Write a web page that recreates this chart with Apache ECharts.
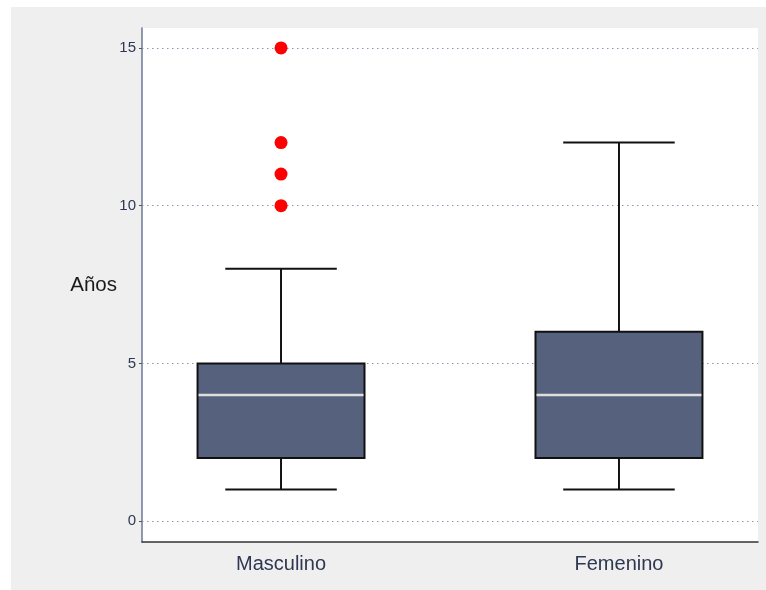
<!DOCTYPE html>
<html>
<head>
<meta charset="utf-8">
<script src="https://cdn.jsdelivr.net/npm/echarts@6/dist/echarts.min.js"></script>
<style>
  html, body { margin: 0; padding: 0; background: #ffffff; }
  #chart { width: 766px; height: 590px; }
</style>
</head>
<body>
<div id="chart"></div>
<script>
var categories = ['Masculino', 'Femenino'];
var whiskerLow = [1, 1];
var q1 = [2, 2];
var median = [4, 4];
var q3 = [5, 6];
var whiskerHigh = [8, 12];
// outliers: [category index, value]
var outliers = [[0, 10], [0, 11], [0, 12], [0, 15]];
var yTicks = [0, 5, 10, 15];

var boxData = categories.map(function (c, i) {
  return [i + 1, whiskerLow[i], q1[i], median[i], q3[i], whiskerHigh[i]];
});
var outlierData = outliers.map(function (o) { return [o[0] + 1, o[1]]; });

var chart = echarts.init(document.getElementById('chart'));

var BOX_W = 0.494;
var CAP_W = 0.33;

function renderBox(params, api) {
  var x = api.value(0);
  var lo = api.coord([x, api.value(1)]);
  var b1 = api.coord([x, api.value(2)]);
  var md = api.coord([x, api.value(3)]);
  var b3 = api.coord([x, api.value(4)]);
  var hi = api.coord([x, api.value(5)]);
  var bw = api.size([BOX_W, 0])[0];
  var cw = api.size([CAP_W, 0])[0];
  var line = { stroke: '#111111', lineWidth: 2 };
  return {
    type: 'group',
    children: [
      { type: 'line', shape: { x1: lo[0], y1: lo[1], x2: b1[0], y2: b1[1] }, style: line },
      { type: 'line', shape: { x1: b3[0], y1: b3[1], x2: hi[0], y2: hi[1] }, style: line },
      { type: 'line', shape: { x1: lo[0] - cw / 2, y1: lo[1], x2: lo[0] + cw / 2, y2: lo[1] }, style: line },
      { type: 'line', shape: { x1: hi[0] - cw / 2, y1: hi[1], x2: hi[0] + cw / 2, y2: hi[1] }, style: line },
      { type: 'rect', shape: { x: b3[0] - bw / 2, y: b3[1], width: bw, height: b1[1] - b3[1] },
        style: { fill: '#56617d', stroke: '#111111', lineWidth: 2 } },
      { type: 'line', shape: { x1: md[0] - bw / 2 + 1, y1: md[1], x2: md[0] + bw / 2 - 1, y2: md[1] },
        style: { stroke: '#dedede', lineWidth: 2.5 } }
    ]
  };
}

var option = {
  animation: false,
  backgroundColor: '#ffffff',
  textStyle: { fontFamily: 'Liberation Sans' },
  graphic: [{
    type: 'rect', z: -100, silent: true,
    shape: { x: 11, y: 7, width: 755, height: 583 },
    style: { fill: '#efefef' }
  }],
  grid: {
    left: 142, top: 28, width: 616, height: 514,
    show: true, backgroundColor: '#ffffff', borderWidth: 0
  },
  xAxis: {
    type: 'value',
    min: 0.5886, max: 2.4114,
    splitLine: { show: false },
    axisTick: { show: false },
    axisLine: { show: true, onZero: false, lineStyle: { color: '#333333', width: 1.5 } },
    axisLabel: {
      customValues: [1, 2],
      formatter: function (v) { return categories[Math.round(v) - 1] || ''; },
      color: '#2f3852', fontSize: 20, margin: 12
    }
  },
  yAxis: {
    type: 'value',
    min: -0.66, max: 15.63,
    name: 'Años',
    nameLocation: 'middle',
    nameRotate: 0,
    nameGap: 25,
    nameMoveOverlap: false,
    nameTextStyle: { color: '#1a1a1a', fontSize: 20.5 },
    splitLine: { show: false },
    axisLine: { show: true, lineStyle: { color: '#6a7897', width: 1.5 } },
    axisTick: { show: true, customValues: yTicks, length: 3, lineStyle: { color: '#555555' } },
    axisLabel: { customValues: yTicks, color: '#2f3852', fontSize: 15, margin: 6 }
  },
  series: [
    {
      type: 'custom',
      renderItem: renderBox,
      encode: { x: 0, y: [1, 2, 3, 4, 5] },
      data: boxData,
      z: 3,
      markLine: {
        silent: true,
        symbol: 'none',
        label: { show: false },
        lineStyle: { type: [1.5, 3.5], color: '#8f95b0', width: 1.2 },
        data: yTicks.map(function (t) { return { yAxis: t }; }),
        z: 1
      }
    },
    {
      type: 'scatter',
      data: outlierData,
      symbolSize: 13,
      itemStyle: { color: '#ff0000', opacity: 1 },
      z: 4
    }
  ]
};

chart.setOption(option);
</script>
</body>
</html>
